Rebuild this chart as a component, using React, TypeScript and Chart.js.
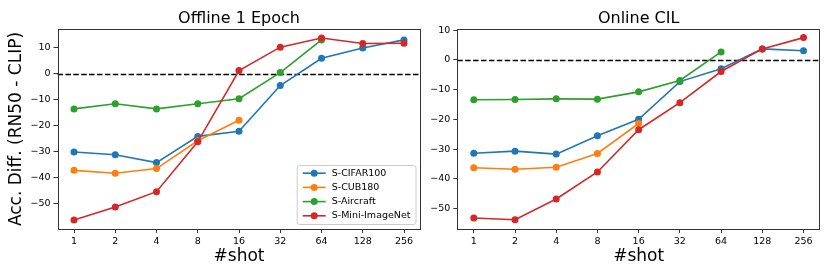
import React, { useEffect, useRef } from 'react';
import { Chart, registerables } from 'chart.js';

Chart.register(...registerables);

const SHOTS = ['1', '2', '4', '8', '16', '32', '64', '128', '256'];
const SERIES_NAMES = ['S-CIFAR100', 'S-CUB180', 'S-Aircraft', 'S-Mini-ImageNet'];
const SERIES_COLORS = ['#1f77b4', '#ff7f0e', '#2ca02c', '#d62728'];
const Y_TICKS = [-50, -40, -30, -20, -10, 0, 10];

const OFFLINE_CIFAR100 = [-30.1, -31.2, -34.2, -24.1, -22.1, -4.5, 6.0, 10.0, 13.1];
const OFFLINE_CUB180 = [-37.2, -38.3, -36.5, -25.8, -17.9, null, null, null, null];
const OFFLINE_AIRCRAFT = [-13.5, -11.5, -13.5, -11.5, -9.6, 0.5, 13.1, null, null];
const OFFLINE_MINI = [-56.3, -51.3, -45.4, -26.2, 1.3, 10.3, 13.8, 11.7, 11.8];

const ONLINE_CIFAR100 = [-31.4, -30.7, -31.7, -25.5, -20.0, -7.3, -3.0, 3.7, 3.1];
const ONLINE_CUB180 = [-36.3, -36.8, -36.1, -31.5, -21.4, null, null, null, null];
const ONLINE_AIRCRAFT = [-13.4, -13.3, -13.1, -13.2, -10.75, -6.9, 2.7, null, null];
const ONLINE_MINI = [-53.2, -53.8, -46.8, -37.7, -23.5, -14.4, -3.9, 3.7, 7.5];

const FONT = '"DejaVu Sans", sans-serif';
Chart.defaults.font.family = FONT;

const framePlugin = {
  id: 'frameAndZero',
  beforeDatasetsDraw(chart: any) {
    const { ctx, chartArea: a } = chart;
    const y = Math.round(chart.scales.y.getPixelForValue(0)) + 0.5;
    ctx.save();
    ctx.strokeStyle = '#000';
    ctx.lineWidth = 1.5;
    ctx.setLineDash([5.5, 2.4]);
    ctx.beginPath();
    ctx.moveTo(a.left, y);
    ctx.lineTo(a.right, y);
    ctx.stroke();
    ctx.restore();
  },
  afterDatasetsDraw(chart: any) {
    const { ctx, chartArea: a } = chart;
    ctx.save();
    ctx.strokeStyle = '#333';
    ctx.lineWidth = 1;
    ctx.strokeRect(Math.round(a.left) + 0.5, Math.round(a.top) + 0.5, Math.round(a.right - a.left) - 1, Math.round(a.bottom - a.top));
    ctx.restore();
  },
};

const legendPlugin = {
  id: 'boxLegend',
  afterDraw(chart: any) {
    const { ctx, chartArea: a } = chart;
    const fs = 9.5;
    ctx.save();
    ctx.font = `${fs}px ${FONT}`;
    const ds = chart.data.datasets.slice().sort((p: any, q: any) => p.legendIndex - q.legendIndex);
    const textW = Math.max(...ds.map((d: any) => ctx.measureText(d.label).width));
    const padL = 6, handleLen = 23, gap = 6, padR = 5;
    const rowH = 14.2, padV = 8.2;
    const w = padL + handleLen + gap + textW + padR;
    const h = padV * 2 + rowH * (ds.length - 1);
    const right = a.right - 5;
    const bottom = a.bottom - 5;
    const left = right - w;
    const top = bottom - h;
    ctx.beginPath();
    ctx.roundRect(left + 0.5, top + 0.5, w, h, 2.5);
    ctx.fillStyle = 'rgba(255,255,255,0.8)';
    ctx.fill();
    ctx.strokeStyle = '#cccccc';
    ctx.lineWidth = 1;
    ctx.stroke();
    ds.forEach((d: any, i: number) => {
      const cy = top + padV + i * rowH;
      const hx = left + padL;
      ctx.strokeStyle = d.borderColor;
      ctx.lineWidth = 1.6;
      ctx.beginPath();
      ctx.moveTo(hx, cy);
      ctx.lineTo(hx + handleLen, cy);
      ctx.stroke();
      ctx.fillStyle = d.borderColor;
      ctx.beginPath();
      ctx.arc(hx + handleLen / 2, cy, 3.5, 0, Math.PI * 2);
      ctx.fill();
      ctx.fillStyle = '#000';
      ctx.textBaseline = 'middle';
      ctx.textAlign = 'left';
      ctx.fillText(d.label, hx + handleLen + gap, cy);
    });
    ctx.restore();
  },
};

function makeDatasets(series: (number | null)[][]) {
  return series.map((vals, k) => ({
    label: SERIES_NAMES[k],
    legendIndex: k,
    order: series.length - k,
    data: vals
      .map((v, i) => (v == null ? null : { x: i, y: v }))
      .filter((p) => p !== null),
    borderColor: SERIES_COLORS[k],
    backgroundColor: SERIES_COLORS[k],
    pointBackgroundColor: SERIES_COLORS[k],
    pointBorderWidth: 0,
    pointRadius: 3.5,
    borderWidth: 1.6,
    tension: 0,
    fill: false,
  }));
}

function makeConfig(opts: {
  title: string;
  series: (number | null)[][];
  yMin: number;
  yMax: number;
  yWidth: number;
  showYTitle: boolean;
  padRight: number;
  legend: boolean;
}): any {
  return {
    type: 'line',
    data: { datasets: makeDatasets(opts.series) },
    plugins: opts.legend ? [framePlugin, legendPlugin] : [framePlugin],
    options: {
      animation: false,
      responsive: false,
      devicePixelRatio: 1,
      layout: { padding: { top: 0, left: 0, right: opts.padRight, bottom: 0 } },
      plugins: {
        legend: { display: false },
        tooltip: { enabled: false },
        title: {
          display: true,
          text: opts.title,
          fullSize: false,
          color: '#000',
          font: { size: 16, weight: 'normal', family: FONT },
          padding: { top: 9, bottom: 0.8 },
        },
      },
      scales: {
        x: {
          type: 'linear',
          min: -0.4,
          max: 8.4,
          afterBuildTicks: (s: any) => {
            s.ticks = SHOTS.map((_, i) => ({ value: i }));
          },
          afterFit: (s: any) => {
            s.height = 48;
          },
          ticks: {
            callback: (v: any) => SHOTS[v],
            color: '#000',
            font: { size: 9.5, family: FONT },
            padding: 3,
            maxRotation: 0,
            autoSkip: false,
          },
          grid: {
            display: true,
            drawOnChartArea: false,
            drawTicks: true,
            tickLength: 4,
            color: '#333',
            lineWidth: 1,
          },
          border: { display: false },
          title: {
            display: true,
            text: '#shot',
            color: '#000',
            font: { size: 17, family: FONT },
            padding: { top: 0, bottom: 10 },
          },
        },
        y: {
          type: 'linear',
          min: opts.yMin,
          max: opts.yMax,
          afterBuildTicks: (s: any) => {
            s.ticks = Y_TICKS.map((v) => ({ value: v }));
          },
          afterFit: (s: any) => {
            s.width = opts.yWidth;
          },
          ticks: {
            callback: (v: any) => String(v).replace('-', '\u2212'),
            color: '#000',
            font: { size: 9.5, family: FONT },
            padding: 3,
          },
          grid: {
            display: true,
            drawOnChartArea: false,
            drawTicks: true,
            tickLength: 4,
            color: '#333',
            lineWidth: 1,
          },
          border: { display: false },
          title: {
            display: opts.showYTitle,
            text: 'Acc. Diff. (RN50 - CLIP)',
            color: '#000',
            font: { size: 17, family: FONT },
            padding: { top: 6.3, bottom: 0 },
          },
        },
      },
    },
  };
}

function ChartCanvas(props: { config: any; left: number; width: number }) {
  const ref = useRef<HTMLCanvasElement | null>(null);
  useEffect(() => {
    if (!ref.current) return;
    const chart = new Chart(ref.current, props.config);
    return () => chart.destroy();
  }, []);
  return (
    <canvas
      ref={ref}
      width={props.width}
      height={277}
      style={{ position: 'absolute', left: props.left, top: 0, width: props.width, height: 277, display: 'block' }}
    />
  );
}

export default function App() {
  const left = makeConfig({
    title: 'Offline 1 Epoch',
    series: [OFFLINE_CIFAR100, OFFLINE_CUB180, OFFLINE_AIRCRAFT, OFFLINE_MINI],
    yMin: -59.8,
    yMax: 17.3,
    yWidth: 57.5,
    showYTitle: true,
    padRight: 4.5,
    legend: true,
  });
  const right = makeConfig({
    title: 'Online CIL',
    series: [ONLINE_CIFAR100, ONLINE_CUB180, ONLINE_AIRCRAFT, ONLINE_MINI],
    yMin: -56.9,
    yMax: 10.4,
    yWidth: 32.3,
    showYTitle: false,
    padRight: 10,
    legend: false,
  });
  return (
    <div style={{ position: 'fixed', left: 0, top: 0, width: 830, height: 277, background: '#fff' }}>
      <ChartCanvas config={left} left={0} width={425} />
      <ChartCanvas config={right} left={425} width={405} />
    </div>
  );
}
